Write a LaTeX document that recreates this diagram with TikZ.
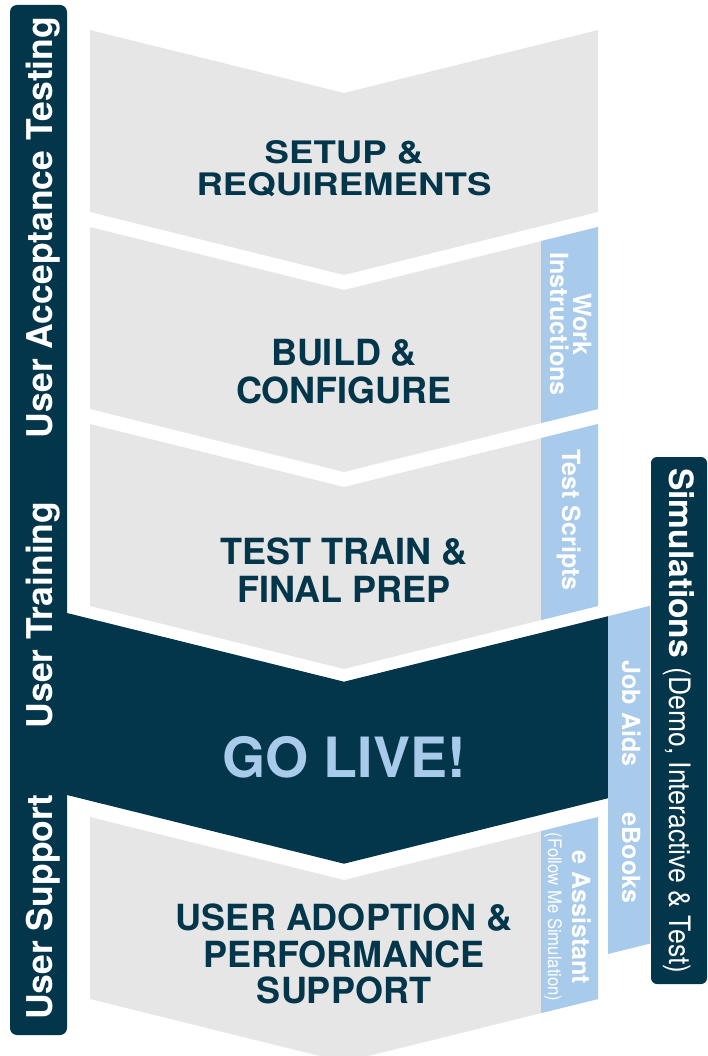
\documentclass[tikz,border=0pt]{standalone}
\usepackage{fontspec}
\setmainfont{TeX Gyre Heros}
\newfontfamily\wideface[FakeStretch=1.18]{TeX Gyre Heros}
\newfontfamily\narrowface[FakeStretch=0.9]{TeX Gyre Heros}
\definecolor{navy}{RGB}{3,54,74}
\definecolor{skyblue}{RGB}{169,203,235}
\definecolor{phasegray}{RGB}{230,230,230}

\begin{document}
\begin{tikzpicture}[
    x=1pt, y=-1pt,
    phase/.style={fill=phasegray},
    strip/.style={fill=skyblue},
    bar/.style={fill=navy, rounded corners=7pt},
    title/.style={text=navy, align=center, font=\fontsize{36}{38}\selectfont\bfseries},
    sidelabel/.style={rotate=90, anchor=base, text=white, font=\fontsize{35.5}{35.5}\selectfont\bfseries},
    striplabel/.style={rotate=-90, anchor=base, text=white, font=\fontsize{25}{25}\selectfont\bfseries}
]

\useasboundingbox (0,0) rectangle (708,1056);

% Gray phase chevrons
\foreach \t in {30,227,424,817}
    \fill[phase] (90,\t) -- (344,\t+63) -- (598,\t) -- (598,\t+182) -- (344,\t+245) -- (90,\t+182) -- cycle;

% Go live chevron
\fill[navy] (67,613) -- (344,681.7) -- (608,616.2) -- (608,798.2) -- (344,863.7) -- (67,795) -- cycle;

% Left bar
\fill[bar] (10,5) rectangle (67,1035);

% Light blue strips on the right
\foreach \t in {227,424,817}
    \fill[strip] (541,\t+14.1) -- (598,\t) -- (598,\t+182) -- (541,\t+196.1) -- cycle;
\fill[strip] (608,616.2) -- (650,605.8) -- (650,943.6) -- (608,954) -- cycle;

% Simulations box
\fill[bar, rounded corners=6pt] (651,457) rectangle (707,984);

% Phase titles
\node[title, font=\fontsize{31}{32}\selectfont\wideface\bfseries] (setup) at (344,169) {SETUP \&\\REQUIREMENTS};
\node[title] (build) at (344,371.5) {BUILD \&\\CONFIGURE};
\node[title] (test) at (344,570) {TEST TRAIN \&\\FINAL PREP};
\node[font=\fontsize{55.5}{56}\selectfont\bfseries, text=skyblue] (golive) at (344,757) {GO LIVE!};
\node[title, font=\fontsize{36}{36.5}\selectfont\bfseries] (adopt) at (344,954) {USER ADOPTION \&\\PERFORMANCE\\SUPPORT};

% Labels on the left bar
\node[sidelabel] (uat) at (52,227.5) {User Acceptance Testing};
\node[sidelabel] (training) at (52,615) {User Training};
\node[sidelabel] (support) at (52,907) {User Support};

% Labels in the strips
\node[striplabel] (work) at (573,324) {Work};
\node[striplabel] (instructions) at (550,324) {Instructions};
\node[striplabel] (scripts) at (562,520) {Test Scripts};
\node[striplabel] (jobaids) at (622,713.5) {Job Aids};
\node[striplabel] (ebooks) at (622,858) {eBooks};
\node[striplabel] (eassist) at (572,917.5) {e Assistant};
\node[striplabel, font=\fontsize{18.5}{19}\selectfont\narrowface] (followme) at (548,917) {(Follow Me Simulation)};

% Simulations label
\node[striplabel, anchor=base west, inner sep=0pt, font=\fontsize{33.5}{33.5}\selectfont] (sims) at (669,468)
    {\textbf{Simulations} {\narrowface\fontsize{29.5}{29.5}\selectfont(Demo, Interactive \& Test)}};

\end{tikzpicture}
\end{document}
